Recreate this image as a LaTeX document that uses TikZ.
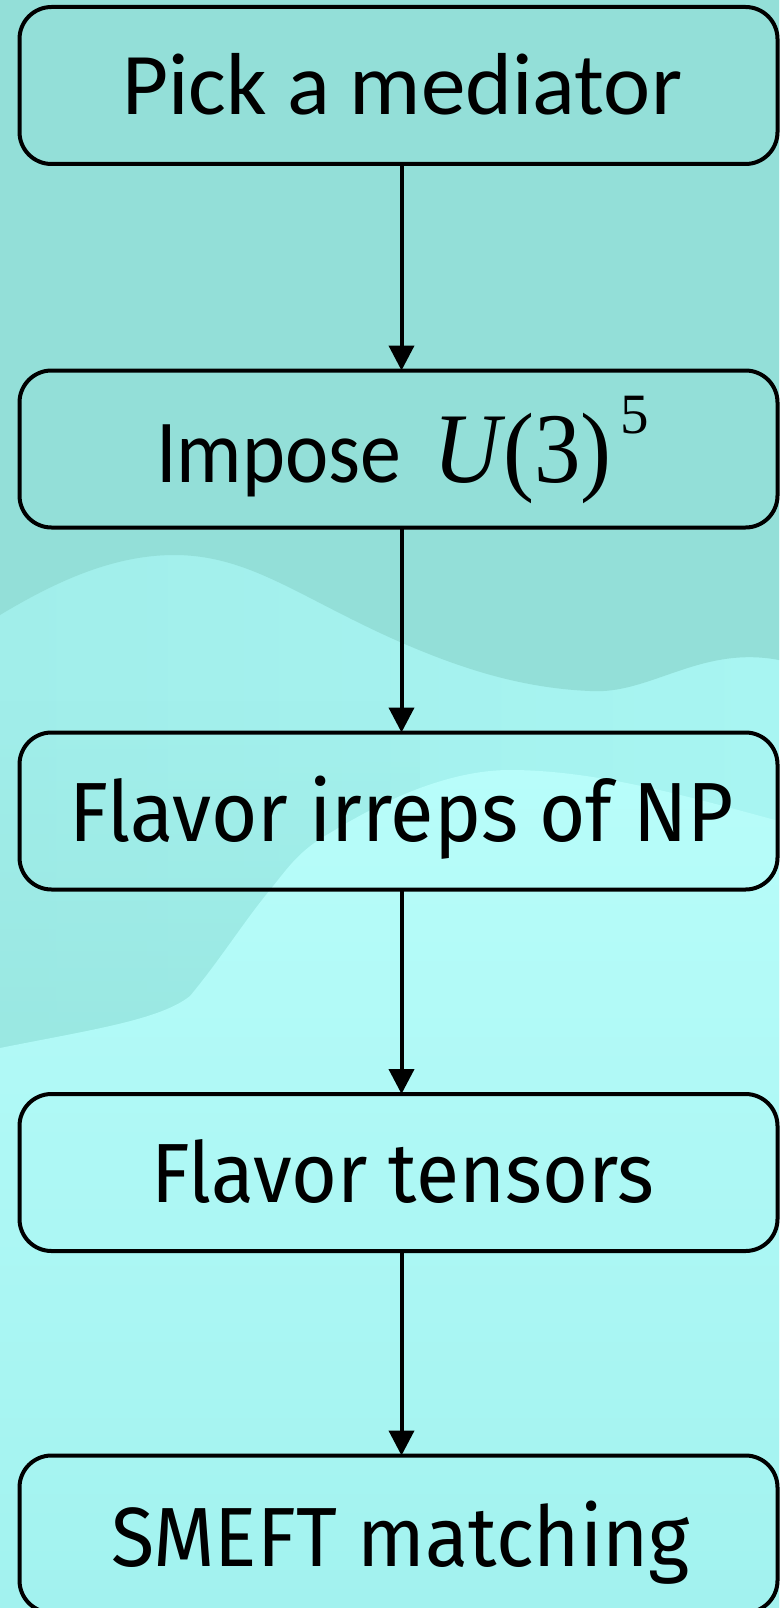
\documentclass[tikz,border=0pt]{standalone}
\usepackage{fontspec}
\usepackage{graphicx}
\usetikzlibrary{arrows.meta,fadings}
\newfontfamily\carlfont{Carlito}
\newfontfamily\firafont{Fira Sans}
\newfontfamily\tnrfont{Liberation Serif}
\definecolor{bgtop}{HTML}{93DFD8}
\definecolor{bgmidl}{HTML}{A1EEEA}
\definecolor{bgmidr}{HTML}{A8F5F2}
\definecolor{bgblob}{HTML}{99E7E1}
\definecolor{bglight}{HTML}{B8FDFA}
\definecolor{bgbottom}{HTML}{A2F2EF}
\begin{document}
\begin{tikzpicture}[x=1pt,y=-1pt,
  flowbox/.style={draw=black, line width=4pt, rounded corners=32pt,
    minimum width=758pt, minimum height=157pt, outer sep=0pt, inner sep=0pt},
  lbl/.style={anchor=base west, inner sep=0pt, outer sep=0pt, text=black},
  flowarrow/.style={draw=black, line width=4pt, -{Triangle[length=25pt,width=25pt]}}
]
\useasboundingbox (0,0) rectangle (779,1608);
\begin{scope}
\clip (0,0) rectangle (779,1608);
% background
\shade[left color=bgmidl, right color=bgmidr] (0,0) rectangle (779,1608);
\fill[bgblob, path fading=north] (0,700) -- (420,700) -- (420,1100) -- (0,1100) -- cycle;
\fill[bgtop] (0,0) -- (779,0) -- (779,660)
  .. controls (700,645) and (650,695) .. (590,691)
  .. controls (520,688) and (460,668) .. (400,642)
  .. controls (300,598) and (250,555) .. (174,555)
  .. controls (110,555) and (50,585) .. (0,615) -- cycle;
\shade[top color=bglight, bottom color=bgbottom]
  (0,1048) .. controls (90,1030) and (160,1020) .. (190,996)
  .. controls (220,960) and (245,920) .. (270,890)
  .. controls (290,865) and (300,850) .. (330,833)
  .. controls (400,790) and (460,770) .. (510,770)
  .. controls (600,770) and (700,800) .. (779,821)
  -- (779,1608) -- (0,1608) -- cycle;
\end{scope}

% boxes
\node[flowbox] (b1) at (398.5,85.5) {};
\node[flowbox] (b2) at (398.5,449) {};
\node[flowbox] (b3) at (398.5,811) {};
\node[flowbox] (b4) at (398.5,1172.5) {};
\node[flowbox] (b5) at (398.5,1534) {};

% texts
\node[lbl] (t1) at (122,115) {\carlfont\fontsize{88}{88}\selectfont\resizebox{560pt}{\height}{Pick a mediator}};
\node[lbl] (t2) at (156,482) {\carlfont\fontsize{90}{90}\selectfont\resizebox{245pt}{\height}{Impose}};
\node[lbl] (t2m) at (433,482) {\tnrfont\fontsize{100}{100}\selectfont\scalebox{0.93}[1]{\textit{U}\kern-2pt(3)}};
\node[lbl] (t2s) at (620,433) {\tnrfont\fontsize{57}{57}\selectfont 5};
\node[lbl] (t3) at (69,841) {\firafont\fontsize{84}{84}\selectfont\resizebox{665pt}{\height}{Flavor irreps of NP}};
\node[lbl] (t4) at (151,1202) {\firafont\fontsize{84}{84}\selectfont\resizebox{503pt}{\height}{Flavor tensors}};
\node[lbl] (t5) at (111,1566) {\firafont\fontsize{84}{84}\selectfont\resizebox{579pt}{\height}{SMEFT matching}};

% arrows
\coordinate (ax) at (401.5,0);
\draw[flowarrow] (b1.south -| ax) -- (b2.north -| ax);
\draw[flowarrow] (b2.south -| ax) -- (b3.north -| ax);
\draw[flowarrow] (b3.south -| ax) -- (b4.north -| ax);
\draw[flowarrow] (b4.south -| ax) -- (b5.north -| ax);
\end{tikzpicture}
\end{document}
